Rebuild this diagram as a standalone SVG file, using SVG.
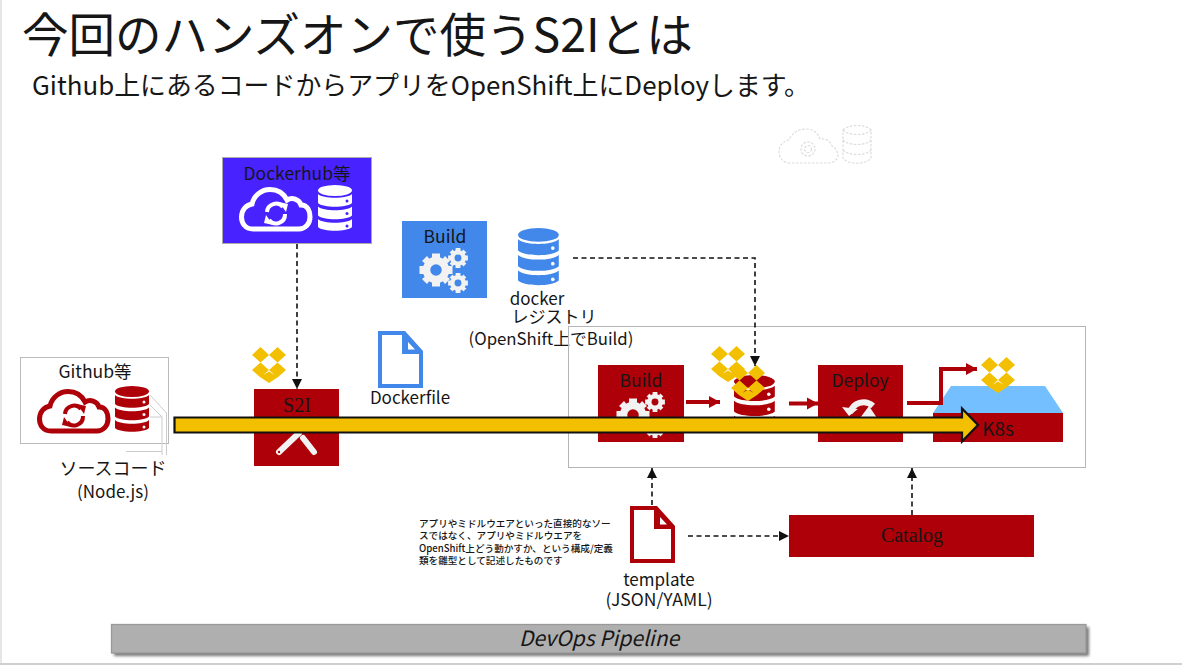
<svg xmlns="http://www.w3.org/2000/svg" xmlns:xlink="http://www.w3.org/1999/xlink" width="1182" height="665" viewBox="0 0 1182 665">
<style>
text{font-family:"Noto Sans CJK JP","Noto Sans",sans-serif;fill:#161616}
.c{text-anchor:middle}
.m{font-size:17px}
.l{font-size:17.5px}
.s{font-family:"Liberation Serif","Noto Sans CJK JP",serif;font-size:20px}
.n{font-size:9.6px;font-weight:500}
.dash{fill:none;stroke:#111;stroke-width:1.6;stroke-dasharray:5 3.5}
.red{fill:none;stroke:#ad0008;stroke-width:4}
.box{fill:#ad0008}
.gh{fill:none;stroke:#dcdcdc;stroke-width:1.2;stroke-dasharray:2.5 1.5}
</style>
<defs>
<filter id="blur" x="-5%" y="-30%" width="110%" height="160%"><feGaussianBlur stdDeviation="1.5"/></filter>
<marker id="ab" markerWidth="10" markerHeight="10" refX="10" refY="5" orient="auto" markerUnits="userSpaceOnUse"><path d="M0 0L10 5L0 10Z" fill="#111"/></marker>
<marker id="ar" markerWidth="12" markerHeight="13" refX="11" refY="6.500" orient="auto" markerUnits="userSpaceOnUse"><path d="M0 0.500L11 6.500L0 12.500Z" fill="#ad0008"/></marker>
<g id="cloud"><path d="M14 42C6 42 2.500 36 2.500 30C2.500 23 7 18 13 17C15 8 23 2.500 31 2.500C39 2.500 45 7 48 13C53 10 60 12 62 18C69 18 71 25 71 30C71 37 66 42 60 42Z" fill="none" stroke="currentColor" stroke-width="5"/><path d="M28 25A9 9 0 0 1 44 20M46 27A9 9 0 0 1 30 33" fill="none" stroke="currentColor" stroke-width="4"/><path d="M40 15L49 17L47 25ZM34 38L25 36L27 28Z" fill="currentColor"/></g>
<g id="db"><ellipse cx="17" cy="5.500" rx="17" ry="5.500" fill="currentColor"/><path d="M0 9C5 14 29 14 34 9V18C29 23 5 23 0 18Z" fill="currentColor"/><path d="M0 21.500C5 26.500 29 26.500 34 21.500V30.500C29 35.500 5 35.500 0 30.500Z" fill="currentColor"/><path d="M0 34C5 39 29 39 34 34V42C29 47 5 47 0 42Z" fill="currentColor"/><circle cx="29" cy="16" r="1.500" style="fill:var(--d,#fff)"/><circle cx="29" cy="28.500" r="1.500" style="fill:var(--d,#fff)"/><circle cx="29" cy="41" r="1.500" style="fill:var(--d,#fff)"/></g>
<g id="gear"><circle r="9.500" fill="none" stroke="#f2f2f2" stroke-width="7.500"/><path d="M-4-16.500H4V-11H-4ZM-4 11H4V16.500H-4ZM-16.500-4H-11V4H-16.500ZM11-4H16.500V4H11ZM-14-9L-9-14L-5-9L-9-5ZM9-14L14-9L9-5L5-9ZM-14 9L-9 14L-5 9L-9 5ZM9 14L14 9L9 5L5 9Z" fill="#f2f2f2"/></g>
<g id="drop"><path d="M0 8L8.500 0L17 8L8.500 15.500ZM17 8L25.500 0L34 8L25.500 15.500ZM0 23L8.500 15.500L17 23L8.500 30.500ZM17 23L25.500 15.500L34 23L25.500 30.500ZM8 30L17 24.500L26 30L17 36Z" fill="#f2c000"/></g>
<g id="doc"><path fill-rule="evenodd" d="M0 0H27L45 20V57H0ZM4 4V53H41V23H24V4Z" fill="currentColor"/><path d="M28 7L40 19H28Z" fill="currentColor" opacity=".55"/><path d="M30 11L37 18.500H30Z" fill="#fff"/></g>
</defs>
<rect width="1182" height="665" fill="#fff"/>
<rect x="0" y="0" width="2" height="665" fill="#e6e6e6"/>
<rect x="0" y="663" width="1182" height="2" fill="#cfcfcf"/>
<g id="title"><text x="22" y="52" font-size="46.500">今回のハンズオンで使うS2Iとは</text></g>
<g id="subtitle"><text x="32" y="95" font-size="25.900">Github上にあるコードからアプリをOpenShift上にDeployします。</text></g>

<g id="ghost-icons"><path class="gh" d="M790 163C782 163 779 157 779 151C779 145 784 141 789 140C792 133 798 129 806 129C813 129 818 133 820 139C826 138 830 141 832 146C836 148 838 152 838 155C838 160 833 163 828 163Z"/><circle class="gh" cx="808" cy="149" r="7"/><circle class="gh" cx="808" cy="149" r="3.500"/><path class="gh" d="M843 130C848 124 866 124 871 130V158C866 165 848 165 843 158ZM843 130C848 136 866 136 871 130M843 140C848 146 866 146 871 140M843 150C848 156 866 156 871 150"/></g>

<g id="dockerhub"><rect x="222.500" y="157.500" width="149" height="86" fill="#4822ff" stroke="#aaa"/><text x="297" y="180" class="c l">Dockerhub等</text><use xlink:href="#cloud" color="#fff" transform="translate(239 187)"/><use xlink:href="#db" color="#fff" style="--d:#4822ff" transform="translate(318 185)"/></g>

<g id="build-top"><rect x="402" y="221" width="85" height="77" fill="#4287ea"/><text x="445" y="243" class="c l">Build</text><use xlink:href="#gear" transform="translate(436 270)"/><use xlink:href="#gear" transform="translate(458 258) scale(.6)"/><use xlink:href="#gear" transform="translate(458 283) scale(.6)"/></g>

<g id="docker-registry"><use xlink:href="#db" color="#4287ea" transform="translate(518 228) scale(1.2 1.25)"/><text x="537" y="305" class="c m">docker</text><text x="554" y="323" class="c m">レジストリ</text><text x="551" y="345" class="c" style="font-size:16.800px">(OpenShift上でBuild)</text></g>

<g id="dockerfile"><use xlink:href="#doc" color="#4287ea" transform="translate(378 331)"/><text x="410" y="404" class="c m">Dockerfile</text></g>

<g id="github"><rect x="20.500" y="357.500" width="148" height="86" fill="#fff" stroke="#bbb"/><text x="95" y="378" class="c l">Github等</text><use xlink:href="#cloud" color="#ad0008" transform="translate(37 389)"/><use xlink:href="#db" color="#ad0008" transform="translate(115 386)"/><path d="M150 395L166.500 413V455M150 405L162 417M150 417H162V455M126 451.500H162" fill="none" stroke="#ccc"/><text x="113" y="475" class="c" style="font-size:18px">ソースコード</text><text x="113" y="498" class="c m">(Node.js)</text></g>

<g id="s2i"><rect x="254" y="389" width="85" height="77" class="box"/><text x="297" y="412" class="c s">S2I</text><path d="M279 452L299 433M303 438L314 452" stroke="#f2f2f2" stroke-width="6" stroke-linecap="round" fill="none"/><circle cx="279" cy="452" r="1.200" fill="#ad0008"/><use xlink:href="#drop" transform="translate(252 347)"/></g>

<g id="pipeline-frame"><rect x="568.500" y="326.500" width="517" height="141" fill="none" stroke="#b5b5b5"/></g>

<g id="build"><rect x="598" y="365" width="86" height="77" class="box"/><text x="641" y="387" class="c l">Build</text><use xlink:href="#gear" transform="translate(633 415)"/><use xlink:href="#gear" transform="translate(655 402) scale(.6)"/><use xlink:href="#gear" transform="translate(655 428) scale(.6)"/></g>

<g id="registry"><use xlink:href="#db" color="#ad0008" transform="translate(734 375) scale(1.2)"/><use xlink:href="#drop" transform="translate(711 346)"/><use xlink:href="#drop" transform="translate(731 365)"/></g>

<g id="deploy"><rect x="818" y="365" width="85" height="77" class="box"/><text x="860" y="387" class="c l">Deploy</text><path d="M850 413A14 14 0 0 1 873 406" fill="none" stroke="#f2f2f2" stroke-width="6"/><path d="M842 407L858 409L849 416ZM860 418L869 406L877 418Z" fill="#f2f2f2"/></g>

<g id="k8s"><path d="M933 413L951 386H1045L1063 413Z" fill="#73bfff"/><rect x="933" y="413" width="130" height="29" class="box"/><text x="998" y="436" class="c" style="font-size:19px">K8s</text><use xlink:href="#drop" transform="translate(981 357)"/></g>

<g id="catalog"><rect x="789" y="515" width="245" height="42" class="box"/><text x="912" y="542" class="c s">Catalog</text></g>

<g id="template"><use xlink:href="#doc" color="#ad0008" transform="translate(630 506)"/><text x="659" y="586" class="c m">template</text><text x="659" y="606" class="c l">(JSON/YAML)</text></g>

<g id="note"><text x="419" y="527" class="n">アプリやミドルウエアといった直接的なソー</text><text x="419" y="539" class="n">スではなく、アプリやミドルウエアを</text><text x="419" y="552" class="n">OpenShift上どう動かすか、という構成/定義</text><text x="419" y="564" class="n">類を雛型として記述したものです</text></g>

<g id="connectors">
<path class="dash" d="M297 244V389" marker-end="url(#ab)"/>
<path class="dash" d="M573 258H755V366" marker-end="url(#ab)"/>
<path class="dash" d="M652 505V468" marker-end="url(#ab)"/>
<path class="dash" d="M688 536H789" marker-end="url(#ab)"/>
<path class="dash" d="M912 515V468" marker-end="url(#ab)"/>
<path class="red" d="M686 402H720" marker-end="url(#ar)"/>
<path class="red" d="M789 403.500H818" marker-end="url(#ar)"/>
<path class="red" d="M907 403H941V369H977" marker-end="url(#ar)"/>
<path id="big-arrow" d="M174.500 417.500H962V408.500L978 425L962 441.500V432.500H174.500Z" fill="#f2c000" stroke="#111" stroke-width="2.200"/>
</g>

<g id="devops-bar"><rect x="114" y="627" width="975" height="29" fill="#777" filter="url(#blur)"/><rect x="111.500" y="624.500" width="974.500" height="28.500" fill="#afafaf" stroke="#999" stroke-width="1.300"/><text x="599" y="646" class="c" style="font-size:21px;font-style:italic">DevOps Pipeline</text></g>
</svg>
